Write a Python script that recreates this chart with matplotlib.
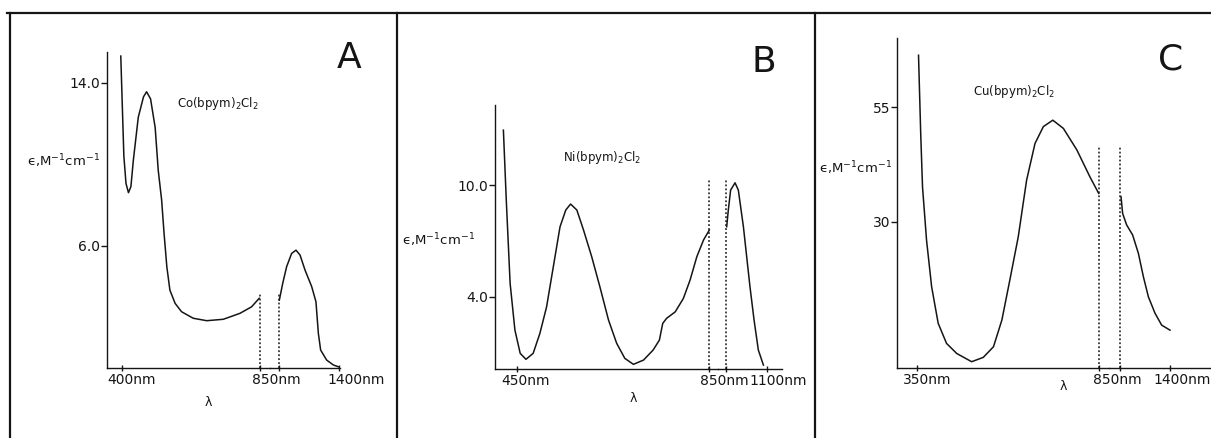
import matplotlib.pyplot as plt
from matplotlib.lines import Line2D

W, H = 1211, 438
INK = "#151515"

# ---- panel A: Co(bpym)2Cl2 ----
a_wl1 = [396, 406, 413, 421, 429, 437, 453, 470, 480, 493, 508, 518, 529, 537, 546,
         556, 573, 594, 632, 676, 730, 784, 822, 847]
a_eps1 = [15.3, 10.4, 9.05, 8.6, 8.9, 10.2, 12.3, 13.3, 13.55, 13.2, 11.8, 9.7, 8.25,
          6.6, 4.97, 3.82, 3.17, 2.76, 2.44, 2.32, 2.39, 2.68, 3.0, 3.42]
a_wl2 = [853, 884, 920, 966, 1006, 1043, 1089, 1150, 1189, 1211, 1232, 1287, 1348, 1394]
a_eps2 = [3.33, 4.15, 4.97, 5.62, 5.78, 5.54, 4.8, 3.99, 3.25, 1.7, 0.88, 0.39, 0.15, 0.06]
a_dot = 3.7

# ---- panel B: Ni(bpym)2Cl2 ----
b_wl1 = [421, 427, 435, 445, 456, 468, 483, 497, 511, 525, 539, 551, 561, 574, 588,
         605, 622, 640, 657, 674, 692, 713, 733, 746, 753, 761, 779, 796, 810, 824,
         838, 850]
b_eps1 = [12.95, 9.19, 4.72, 2.21, 0.96, 0.64, 0.96, 2.03, 3.46, 5.61, 7.76, 8.66,
          8.98, 8.66, 7.58, 6.15, 4.54, 2.75, 1.5, 0.69, 0.37, 0.6, 1.14, 1.67, 2.57,
          2.84, 3.19, 3.91, 4.9, 6.15, 7.05, 7.58]
b_wl2 = [856, 866, 880, 907, 927, 958, 998, 1023, 1049, 1080]
b_eps2 = [7.76, 8.66, 9.73, 10.12, 9.73, 7.76, 4.54, 2.75, 1.14, 0.33]
b_dot = 10.27

# ---- panel C: Cu(bpym)2Cl2 ----
c_wl1 = [355, 361, 366, 377, 391, 409, 432, 460, 501, 533, 561, 584, 606, 629, 652,
         675, 698, 724, 753, 790, 826, 850]
c_eps1 = [66.4, 49.3, 37.6, 26.0, 15.8, 7.8, 3.4, 1.2, -0.6, 0.35, 2.68, 8.5, 17.3,
          26.7, 39.1, 47.1, 50.8, 52.2, 50.4, 45.7, 39.8, 36.2]
c_wl2 = [861, 879, 923, 989, 1052, 1107, 1162, 1235, 1308, 1400]
c_eps2 = [35.5, 31.8, 29.3, 27.1, 23.1, 18.0, 13.6, 10.0, 7.4, 6.3]
c_dot = 46.4

fig = plt.figure(figsize=(W / 100, H / 100), dpi=100)


def box(l, t, r, b):
    return [l / W, 1 - b / H, (r - l) / W, (b - t) / H]


def panel(left, gap, right, top, bottom, xlim1, xlim2, ylim, yticks, ylabels,
          seg1, seg2, dot_top, xlabels):
    # broken x axis: two axes side by side, sharing the same y range
    ax1 = fig.add_axes(box(left, top, gap, bottom))
    ax2 = fig.add_axes(box(gap, top, right, bottom))
    for ax, xl, (wl, e) in ((ax1, xlim1, seg1), (ax2, xlim2, seg2)):
        ax.set_xlim(xl)
        ax.set_ylim(ylim)
        ax.plot(wl, e, color=INK, lw=1.1, solid_joinstyle="round")
        ax.vlines(850, ylim[0], dot_top, colors=INK, linestyles=(0, (1.2, 1.4)), lw=1.1)
        ax.spines[["top", "right"]].set_visible(False)
        for s in ax.spines.values():
            s.set_linewidth(1.0)
            s.set_color(INK)
        ax.patch.set_alpha(0)
        ax.tick_params(axis="x", direction="inout", length=5, width=1, labelbottom=False,
                       color=INK)
    ax2.spines["left"].set_visible(False)
    ax2.set_yticks([])
    ax1.set_yticks(yticks, ylabels)
    ax1.tick_params(axis="y", direction="out", length=4, width=1, labelsize=10, pad=1,
                    color=INK, labelcolor=INK)
    ticks1, ticks2 = [], []
    for i, wl, txt, dx in xlabels:
        ax = ax1 if i == 0 else ax2
        (ticks1 if i == 0 else ticks2).append(wl)
        if txt:
            ax.annotate(txt, xy=(wl, 0), xycoords=ax.get_xaxis_transform(),
                        xytext=(dx, -12), textcoords="offset pixels",
                        ha="center", va="center", fontsize=10, color=INK,
                        annotation_clip=False)
    ax1.set_xticks(ticks1)
    ax2.set_xticks(ticks2)


panel(107, 270, 340, 52, 368, (351.1, 882.1), (767.4, 1409.6), (0, 15.5),
      [6.0, 14.0], ["6.0", "14.0"], (a_wl1, a_eps1), (a_wl2, a_eps2), a_dot,
      [(0, 400, "400nm", 10), (0, 850, "850nm", 16), (1, 850, "", 0),
       (1, 1400, "1400nm", 17)])

panel(495, 717.5, 781.7, 105, 369, (403.5, 867.1), (800, 1191.5),
      (0.12, 14.3), [4.0, 10.0], ["4.0", "10.0"], (b_wl1, b_eps1), (b_wl2, b_eps2),
      b_dot,
      [(0, 450, "450nm", 8), (0, 850, "850nm", 15), (1, 850, "", 0),
       (1, 1100, "1100nm", 11)])

panel(897.3, 1109.35, 1211, 38.3, 368.3, (296.7, 879.3), (732.8, 1851),
      (-2.04, 70.1), [30, 55], ["30", "55"], (c_wl1, c_eps1), (c_wl2, c_eps2), c_dot,
      [(0, 350, "350nm", 10), (0, 850, "850nm", 19), (1, 850, "", 0),
       (1, 1400, "1400nm", 12)])


def ftext(x, y, s, **kw):
    fig.text(x / W, 1 - y / H, s, color=INK, **kw)


ylab = "ϵ,M$^{-1}$cm$^{-1}$"
for letter, (x, y) in zip("ABC", [(349, 58), (764, 62), (1171, 60)]):
    ftext(x, y, letter, fontsize=26, ha="center", va="center")
for name, (x, y) in zip([r"Co(bpym)$_2$Cl$_2$", r"Ni(bpym)$_2$Cl$_2$", r"Cu(bpym)$_2$Cl$_2$"],
                        [(177, 103), (563, 158), (973, 92)]):
    ftext(x, y, name, fontsize=8.5, ha="left", va="center")
for (x, y) in [(100, 166), (475, 245), (892, 173)]:
    ftext(x, y, ylab, fontsize=9.5, ha="right", va="baseline")
for (x, y) in [(208, 403), (633, 398), (1063, 387)]:
    ftext(x, y, "λ", fontsize=9, ha="center", va="center")

# panel frame lines
frame = [((7, 1211), (13, 13)), ((10, 10), (13, 438)), ((397, 397), (13, 438)),
         ((815, 815), (13, 438))]
for xs, ys in frame:
    fig.add_artist(Line2D([x / W for x in xs], [1 - y / H for y in ys],
                          color=INK, lw=1.6))

fig.savefig("out.png", dpi=100)
